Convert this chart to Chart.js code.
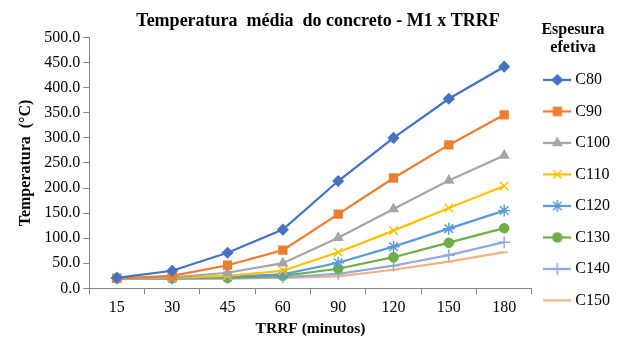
<!DOCTYPE html>
<html>
<head>
<meta charset="utf-8">
<title>Temperatura média do concreto</title>
<script src="https://cdn.jsdelivr.net/npm/chart.js@4.4.1/dist/chart.umd.min.js"></script>
<style>
  html, body { margin: 0; padding: 0; background: #fff; }
  #wrap { width: 630px; height: 343px; }
</style>
</head>
<body>
<div id="wrap"><canvas id="myChart"></canvas></div>
<script>
// tempos (minutos)
var trrf = ['15', '30', '45', '60', '90', '120', '150', '180'];
// temperatura media (C) por espessura efetiva
var c80  = [21, 35, 71, 117, 214, 300, 378, 442];
var c90  = [20, 25, 46, 76, 148, 220, 286, 346];
var c100 = [20, 22, 31, 50, 101, 158, 215, 265];
var c110 = [20, 21, 25, 35, 72, 115, 160, 204];
var c120 = [20, 20, 23, 28, 51, 83, 119, 155];
var c130 = [20, 20, 21, 25, 39, 62, 91, 120];
var c140 = [20, 20, 20, 22, 29, 45, 66, 92];
var c150 = [20, 20, 20, 21, 24, 37, 53, 72];
var seriesNames = ['C80', 'C90', 'C100', 'C110', 'C120', 'C130', 'C140', 'C150'];
var yTicks = [0, 50, 100, 150, 200, 250, 300, 350, 400, 450, 500];

var serieData = [c80, c90, c100, c110, c120, c130, c140, c150];
var colors = ['#4472C4', '#ED7D31', '#A5A5A5', '#FFC000', '#5B9BD5', '#70AD47', '#8FAADC', '#F4B183'];
var markers = ['rectRot', 'rect', 'triangle', 'crossRot', 'star', 'circle', 'cross', 'line'];
var radii = [5, 5.5, 5, 6, 6, 4.5, 6, 4];

var FONT = "'Liberation Serif', 'Times New Roman', serif";

// icone da legenda: linha + marcador
function legendIcon(i) {
  var cv = document.createElement('canvas');
  cv.width = 28; cv.height = 14;
  var c = cv.getContext('2d');
  c.strokeStyle = colors[i];
  c.fillStyle = colors[i];
  c.lineWidth = 2.25;
  c.beginPath(); c.moveTo(0, 7); c.lineTo(28, 7); c.stroke();
  c.lineWidth = 1.5;
  Chart.helpers.drawPoint(c, {
    pointStyle: markers[i], radius: radii[i], rotation: 0, borderWidth: 1.5
  }, 14, 7);
  return cv;
}

var datasets = [];
for (var i = 0; i < serieData.length; i++) {
  datasets.push({
    label: seriesNames[i],
    data: serieData[i],
    borderColor: colors[i],
    backgroundColor: colors[i],
    borderWidth: 2.25,
    pointStyle: markers[i],
    pointRadius: radii[i],
    pointBorderWidth: 1.5,
    pointBackgroundColor: colors[i],
    pointBorderColor: colors[i],
    tension: 0
  });
}

// titulo da legenda em duas linhas
var legendTitlePlugin = {
  id: 'legendTitle2',
  afterDraw: function (chart) {
    var ctx = chart.ctx;
    ctx.save();
    ctx.font = "bold 16px " + FONT;
    ctx.fillStyle = '#000';
    ctx.textAlign = 'center';
    ctx.textBaseline = 'middle';
    var cx = 573;
    ctx.fillText('Espesura', cx, 30);
    ctx.fillText('efetiva', cx, 48);
    ctx.restore();
  }
};

var ctx = document.getElementById('myChart').getContext('2d');
var myChart = new Chart(ctx, {
  type: 'line',
  data: { labels: trrf, datasets: datasets },
  plugins: [legendTitlePlugin],
  options: {
    responsive: true,
    maintainAspectRatio: false,
    animation: false,
    layout: { padding: { left: 16, right: 10, top: 6, bottom: 6 } },
    plugins: {
      title: {
        display: true,
        text: 'Temperatura  média  do concreto - M1 x TRRF',
        color: '#000',
        font: { family: FONT, size: 18, weight: 'bold' },
        padding: { top: 5, bottom: 5 }
      },
      legend: {
        position: 'right',
        align: 'start',
        title: { display: true, text: '', padding: { top: 36, bottom: 0 } },
        labels: {
          color: '#000',
          font: { family: FONT, size: 16 },
          usePointStyle: true,
          pointStyleWidth: 20,
          padding: 15.5,
          generateLabels: function (chart) {
            return chart.data.datasets.map(function (ds, i) {
              return {
                text: ds.label,
                pointStyle: legendIcon(i),
                fillStyle: colors[i],
                strokeStyle: colors[i],
                lineWidth: 0,
                datasetIndex: i,
                fontColor: '#000'
              };
            });
          }
        }
      },
      tooltip: { enabled: false }
    },
    scales: {
      x: {
        offset: true,
        grid: { display: true, drawOnChartArea: false, offset: true, tickLength: 6, color: '#868686' },
        border: { color: '#868686', width: 1 },
        ticks: { color: '#000', font: { family: FONT, size: 16, lineHeight: 1 }, padding: 5.6 },
        title: {
          display: true,
          text: 'TRRF (minutos)',
          color: '#000',
          font: { family: FONT, size: 15.5, weight: 'bold', lineHeight: 1 },
          padding: { top: 0, bottom: 0 }
        }
      },
      y: {
        min: 0,
        max: 500,
        afterBuildTicks: function (axis) {
          axis.ticks = yTicks.map(function (v) { return { value: v }; });
        },
        grid: { display: true, drawOnChartArea: false, tickLength: 6, color: '#868686' },
        border: { color: '#868686', width: 1 },
        ticks: {
          color: '#000',
          font: { family: FONT, size: 16 },
          padding: 3,
          callback: function (v) { return Number(v).toFixed(1); }
        },
        title: {
          display: true,
          text: 'Temperatura  (°C)',
          color: '#000',
          font: { family: FONT, size: 16, weight: 'bold' },
          padding: { top: 0, bottom: 6 }
        }
      }
    }
  }
});
</script>
</body>
</html>
